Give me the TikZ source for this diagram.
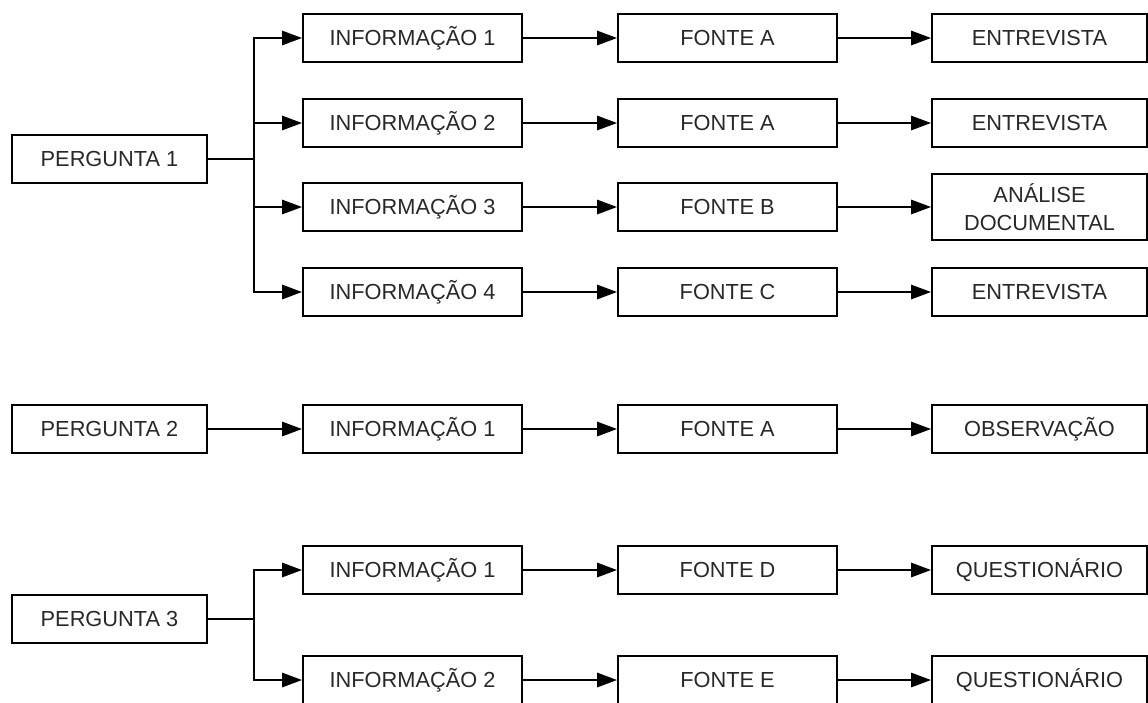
\documentclass[tikz,border=0pt]{standalone}
\usepackage{fontspec}
\setmainfont{Liberation Sans}
\usepackage{tikz}
\usetikzlibrary{arrows.meta, positioning}
\definecolor{boxtext}{RGB}{40, 40, 40}

\begin{document}
\begin{tikzpicture}[
    box/.style={rectangle, draw, line width=1.4pt, minimum width=5.475cm, minimum height=1.2cm, inner sep=2pt, text=boxtext, font=\fontsize{15.5}{20}\selectfont, align=center},
    qbox/.style={box, minimum width=4.875cm},
    rbox/.style={box, minimum width=5.375cm},
    arrow/.style={-{Triangle[length=5mm, width=3.6mm]}, line width=1.3pt},
    link/.style={line width=1.3pt}
]
    \useasboundingbox (0, 0) rectangle (28.7, -17.55);

    % Pergunta 1
    \node[qbox] (perg1) at (2.7375, -3.975) {PERGUNTA 1};
    \coordinate (ram1) at (6.35, -3.975);
    \node[box] (inf11) at (10.3125, -0.95) {INFORMAÇÃO 1};
    \node[box] (inf12) at (10.3125, -3.075) {INFORMAÇÃO 2};
    \node[box] (inf13) at (10.3125, -5.175) {INFORMAÇÃO 3};
    \node[box] (inf14) at (10.3125, -7.3) {INFORMAÇÃO 4};
    \node[box] (fon11) at (18.1875, -0.95) {FONTE A};
    \node[box] (fon12) at (18.1875, -3.075) {FONTE A};
    \node[box] (fon13) at (18.1875, -5.175) {FONTE B};
    \node[box] (fon14) at (18.1875, -7.3) {FONTE C};
    \node[rbox] (met11) at (25.9875, -0.95) {ENTREVISTA};
    \node[rbox] (met12) at (25.9875, -3.075) {ENTREVISTA};
    \node[rbox, minimum height=1.65cm] (met13) at (25.9875, -5.175) {ANÁLISE\\DOCUMENTAL};
    \node[rbox] (met14) at (25.9875, -7.3) {ENTREVISTA};

    % Pergunta 2
    \node[qbox] (perg2) at (2.7375, -10.725) {PERGUNTA 2};
    \node[box] (inf21) at (10.3125, -10.725) {INFORMAÇÃO 1};
    \node[box] (fon21) at (18.1875, -10.725) {FONTE A};
    \node[rbox] (met21) at (25.9875, -10.725) {OBSERVAÇÃO};

    % Pergunta 3
    \node[qbox] (perg3) at (2.7375, -15.475) {PERGUNTA 3};
    \coordinate (ram3) at (6.35, -15.475);
    \node[box] (inf31) at (10.3125, -14.25) {INFORMAÇÃO 1};
    \node[box] (inf32) at (10.3125, -17.0) {INFORMAÇÃO 2};
    \node[box] (fon31) at (18.1875, -14.25) {FONTE D};
    \node[box] (fon32) at (18.1875, -17.0) {FONTE E};
    \node[rbox] (met31) at (25.9875, -14.25) {QUESTIONÁRIO};
    \node[rbox] (met32) at (25.9875, -17.0) {QUESTIONÁRIO};

    % Arrows
    \draw[link] (perg1) -- (ram1);
    \foreach \i in {1,...,4} {
        \draw[arrow] (ram1) |- (inf1\i);
        \draw[arrow] (inf1\i) -- (fon1\i);
        \draw[arrow] (fon1\i) -- (met1\i);
    }
    \draw[arrow] (perg2) -- (inf21);
    \draw[arrow] (inf21) -- (fon21);
    \draw[arrow] (fon21) -- (met21);
    \draw[link] (perg3) -- (ram3);
    \foreach \i in {1,2} {
        \draw[arrow] (ram3) |- (inf3\i);
        \draw[arrow] (inf3\i) -- (fon3\i);
        \draw[arrow] (fon3\i) -- (met3\i);
    }
\end{tikzpicture}
\end{document}
